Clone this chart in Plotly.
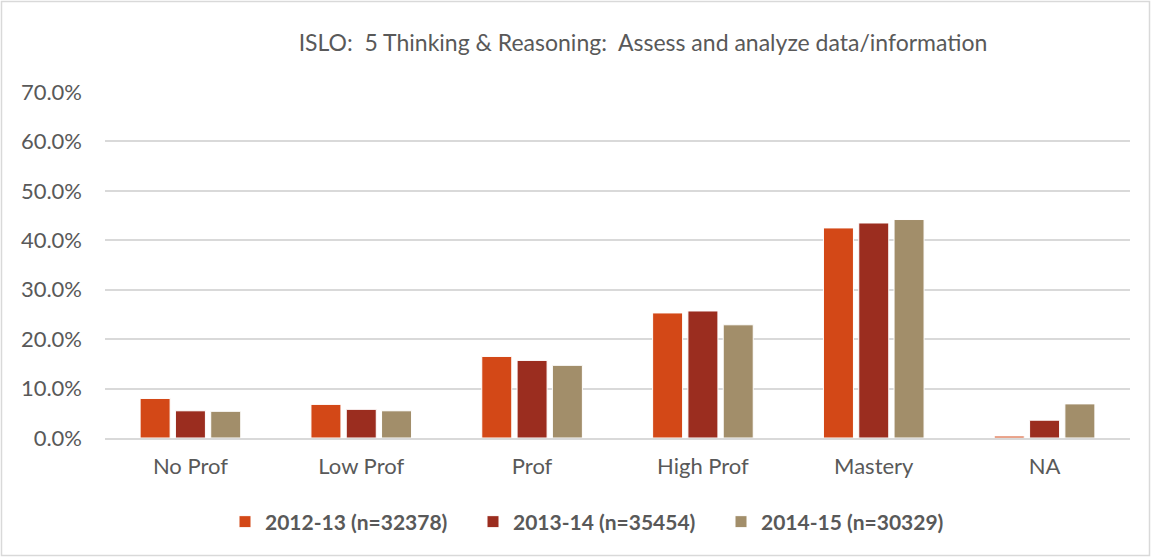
import plotly.graph_objects as go

categories = ["No Prof", "Low Prof", "Prof", "High Prof", "Mastery", "NA"]
y2012 = [0.080, 0.068, 0.165, 0.253, 0.425, 0.004]
y2013 = [0.055, 0.058, 0.157, 0.257, 0.435, 0.036]
y2014 = [0.054, 0.055, 0.147, 0.229, 0.442, 0.069]
names = ["2012-13 (n=32378)", "2013-14 (n=35454)", "2014-15 (n=30329)"]
colors = ["#D34817", "#9B2D1F", "#A28E6A"]

W, H = 1151, 557
ml, mr, mt, mb = 105, 21, 92, 119
pw = W - ml - mr
ph = H - mt - mb

fig = go.Figure()
for vals, name, col in zip([y2012, y2013, y2014], names, colors):
    fig.add_trace(go.Bar(
        x=categories, y=vals, name=name,
        marker=dict(color=col, line=dict(color="white", width=1)),
    ))

fig.update_layout(
    width=W, height=H,
    margin=dict(l=ml, r=mr, t=mt, b=mb),
    paper_bgcolor="white", plot_bgcolor="white",
    font=dict(family="Lato", color="#595959", size=22),
    title=dict(text="ISLO:  5 Thinking & Reasoning:  Assess and analyze data/information",
               xref="paper", x=(643 - ml) / pw, xanchor="center",
               y=1 - 43 / H, yanchor="middle",
               font=dict(size=23, color="#595959")),
    barmode="group", bargap=0.38, bargroupgap=0.15,
    legend=dict(orientation="h", x=(225 - ml) / pw, xanchor="left",
                y=(438 - 522) / ph, yanchor="middle",
                font=dict(size=21, color="#595959", weight="bold"),
                itemwidth=30, tracegroupgap=0, entrywidth=203),
    showlegend=True,
)
fig.update_yaxes(range=[0, 0.7], dtick=0.1, tickformat=".1%",
                 gridcolor="#D9D9D9", gridwidth=1.5, zeroline=False,
                 showline=False, ticks="", ticklen=0, tickfont=dict(size=22),
                 ticklabelstandoff=22)
fig.update_xaxes(showline=True, linecolor="#D9D9D9", linewidth=1.5,
                 ticks="", tickfont=dict(size=22), ticklabelstandoff=8)

# outer chart border
fig.add_shape(type="rect", xref="paper", yref="paper",
              x0=-(ml - 1.5) / pw, x1=1 + (mr - 1.5) / pw,
              y0=-(mb - 1.5) / ph, y1=1 + (mt - 1.5) / ph,
              line=dict(color="#D9D9D9", width=1.5), layer="below")

fig.write_html("out.html", config={"displayModeBar": False},
               post_script="document.body.style.margin='0';")
